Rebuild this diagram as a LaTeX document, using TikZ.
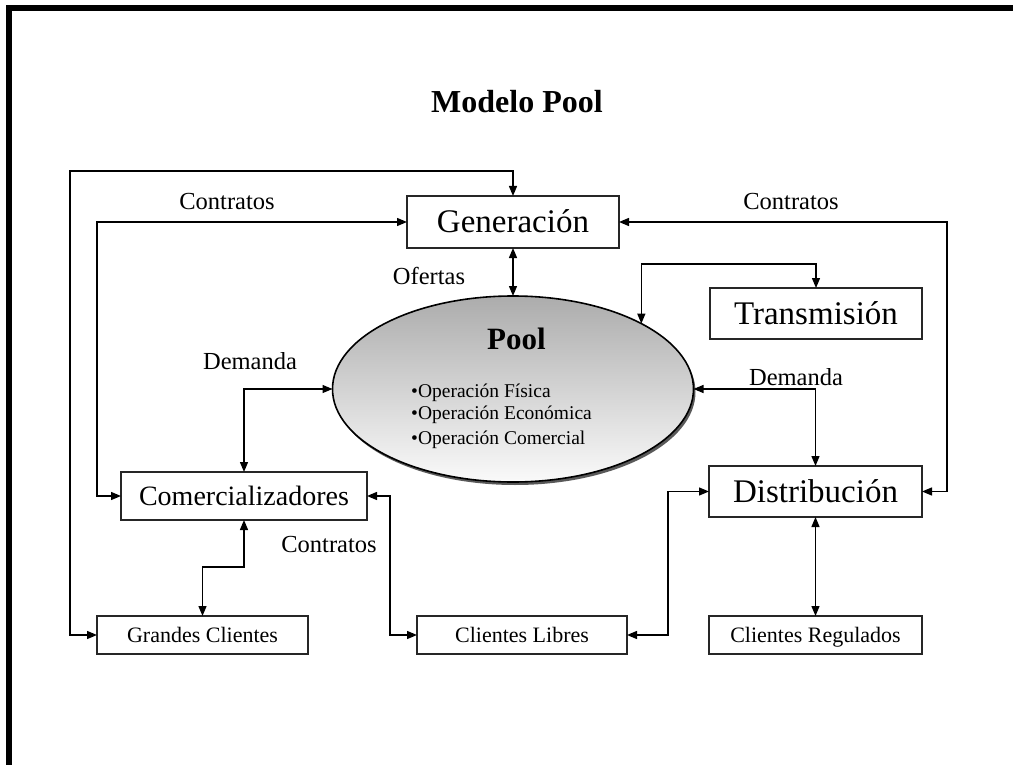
\documentclass[tikz,border=0pt]{standalone}
\usepackage{fontspec}
\setmainfont{Liberation Serif}
\usetikzlibrary{arrows.meta,shapes.geometric}
\definecolor{poolTop}{RGB}{172,172,172}
\definecolor{poolBot}{RGB}{250,250,250}
\begin{document}
\begin{tikzpicture}[x=1pt,y=-1pt,
  box/.style={draw=black!85, line width=1.4pt, inner sep=0pt, outer sep=0pt},
  lbl/.style={inner sep=0pt, font=\fontsize{24.5}{26}\selectfont, text height=16.2pt, text depth=0pt},
  optxt/.style={inner sep=0pt, anchor=west, font=\fontsize{19.5}{21}\selectfont, text height=12.9pt, text depth=0pt},
  conn/.style={{Triangle[length=10pt,width=8pt]}-{Triangle[length=10pt,width=8pt]}, line width=1.3pt},
  big/.style={font=\fontsize{33}{36}\selectfont, text height=21.8pt, text depth=0pt},
  mid/.style={font=\fontsize{28}{30}\selectfont, text height=18.5pt, text depth=0pt},
  small/.style={font=\fontsize{22}{24}\selectfont, text height=14.5pt, text depth=0pt},
]
\useasboundingbox (0,0) rectangle (1013,765);
\draw[line width=6pt] (9,765) -- (9,8) -- (1013,8);

% title
\node[inner sep=0pt, font=\bfseries\fontsize{32}{34}\selectfont, text height=21.1pt, text depth=0pt] (title) at (517,101.5) {Modelo Pool};

% boxes
\node[box, big, minimum width=212pt, minimum height=52pt] (gen) at (513,222) {Generación};
\node[box, big, minimum width=212pt, minimum height=51pt] (trans) at (816,313.5) {Transmisión};
\node[box, mid, minimum width=246pt, minimum height=48pt] (com) at (244,496) {Comercializadores};
\node[box, big, minimum width=213pt, minimum height=51pt] (dist) at (815.5,491.5) {Distribución};
\node[box, small, minimum width=211pt, minimum height=38pt] (gcl) at (202.5,635) {Grandes Clientes};
\node[box, small, minimum width=210pt, minimum height=38pt] (clib) at (522,635) {Clientes Libres};
\node[box, small, minimum width=213pt, minimum height=38pt] (creg) at (815.5,635) {Clientes Regulados};

% pool ellipse with shadow
\node[ellipse, fill=black!65, minimum width=361pt, minimum height=186pt, inner sep=0pt] (poolshadow) at (515,392) {};
\node[ellipse, draw, line width=1.6pt, minimum width=361pt, minimum height=186pt, inner sep=0pt, outer sep=0pt, top color=poolTop, bottom color=poolBot] (pool) at (513,389) {};
\node[inner sep=0pt, font=\bfseries\fontsize{31}{33}\selectfont, text height=20.4pt, text depth=0pt] (poolt) at (516.5,339.5) {Pool};
\node[optxt] (op1) at (411,391.5) {•Operación Física};
\node[optxt] (op2) at (411,413.5) {•Operación Económica};
\node[optxt] (op3) at (411,438) {•Operación Comercial};

% labels
\node[lbl] (c1) at (227,201) {Contratos};
\node[lbl] (c2) at (791,201) {Contratos};
\node[lbl] (ofe) at (429,276) {Ofertas};
\node[lbl] (d1) at (250,361.5) {Demanda};
\node[lbl] (d2) at (796,377) {Demanda};
\node[lbl] (c3) at (329,544) {Contratos};

% connectors
\draw[conn] (gcl.west) -- ++(-27,0) |- ([yshift=25pt]gen.north) -- (gen.north);
\draw[conn] (com.west) -- ++(-24,0) |- (gen.west);
\draw[conn] (gen.east) -- ++(328,0) |- (dist.east);
\draw[conn] (gen.south) -- (pool.north);
\draw[conn] (pool.27) |- ([yshift=24pt]trans.north) -- (trans.north);
\draw[conn] (pool.west) -| (com.north);
\draw[conn] (pool.east) -| (dist.north);
\draw[conn] (com.south) -- ++(0,47) -| (gcl.north);
\draw[conn] (com.east) -- ++(23,0) |- (clib.west);
\draw[conn] (clib.east) -- ++(41,0) |- (dist.west);
\draw[conn] (dist.south) -- (creg.north);
\end{tikzpicture}
\end{document}
